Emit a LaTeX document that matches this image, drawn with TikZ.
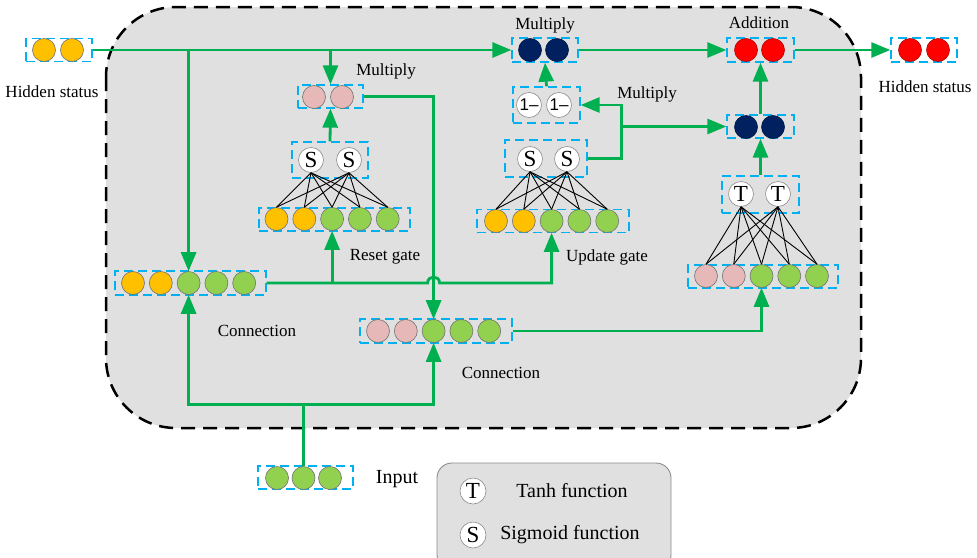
\documentclass[tikz,border=0pt]{standalone}
\usepackage{fontspec}
\setmainfont{Liberation Serif}
\newfontfamily\sansf{Liberation Sans}
\usetikzlibrary{arrows.meta,calc}
\definecolor{orng}{HTML}{FFC000}
\definecolor{grn}{HTML}{92D050}
\definecolor{pnk}{HTML}{E6B8B7}
\definecolor{nvy}{HTML}{002060}
\definecolor{rd}{HTML}{FF0000}
\definecolor{flowgreen}{HTML}{00B050}
\definecolor{boxblue}{HTML}{00B0F0}
\definecolor{bggray}{HTML}{E0E0E0}
\tikzset{
  cir/.style={circle, draw=black!55, line width=0.6pt, minimum size=23pt, inner sep=0pt},
  co/.style={cir, fill=orng},
  cg/.style={cir, fill=grn},
  cp/.style={cir, fill=pnk},
  cn/.style={cir, fill=nvy, draw=nvy!70!black},
  cr/.style={cir, fill=rd, draw=rd!70!black},
  fn/.style={circle, draw=black!45, line width=0.6pt, fill=white, minimum size=25pt, inner sep=0pt, font=\fontsize{23}{24}\selectfont},
  onec/.style={fn, font=\sansf\fontsize{17}{18}\selectfont},
  vbox/.style={draw=boxblue, dash pattern=on 9pt off 5pt, line width=1.3pt, inner sep=0pt, rectangle},
  flow/.style={draw=flowgreen, line width=2.8pt, -{Triangle[length=19pt,width=15pt]}},
  plain/.style={draw=flowgreen, line width=2.8pt},
  nn/.style={draw=black, line width=0.9pt},
  lab/.style={font=\fontsize{17}{20}\selectfont, inner sep=0pt},
  biglab/.style={font=\fontsize{20}{23}\selectfont, inner sep=0pt}
}
\begin{document}
\begin{tikzpicture}[x=1pt,y=-1pt]
\useasboundingbox (0,0) rectangle (977,557);
\fill[white] (0,0) rectangle (977,557);
% main cell
\draw[fill=bggray, draw=black, line width=2.5pt, dash pattern=on 14pt off 8pt, rounded corners=70pt] (106,7) rectangle (861,428);
% legend
\draw[fill=bggray, draw=black!45, line width=0.9pt, rounded corners=15pt] (437,463) rectangle (671,570);

% ---------- boxes ----------
\node[vbox, minimum width=66pt, minimum height=23pt] (hsLbox) at (59,50) {};
\node[vbox, minimum width=65pt, minimum height=23pt] (pinkbox) at (330.5,96.5) {};
\node[vbox, minimum width=66pt, minimum height=24pt] (mulN) at (545,50) {};
\node[vbox, minimum width=67pt, minimum height=24pt] (addbox) at (760.5,50) {};
\node[vbox, minimum width=67pt, minimum height=23pt] (n2box) at (760.5,126.5) {};
\node[vbox, minimum width=66pt, minimum height=24pt] (hsRbox) at (924,50) {};
\node[vbox, minimum width=67pt, minimum height=36pt] (onebox) at (546.5,105) {};
\node[vbox, minimum width=76pt, minimum height=36pt] (sRbox) at (330,160) {};
\node[vbox, minimum width=82pt, minimum height=37pt] (sUbox) at (546,158.5) {};
\node[vbox, minimum width=77pt, minimum height=37pt] (tbox) at (760.5,194.5) {};
\node[vbox, minimum width=151pt, minimum height=23pt] (rbox) at (334.5,219.5) {};
\node[vbox, minimum width=152pt, minimum height=23pt] (ubox) at (553,221) {};
\node[vbox, minimum width=150pt, minimum height=23pt] (tinbox) at (763,276.5) {};
\node[vbox, minimum width=151pt, minimum height=24pt] (c1box) at (190.5,283) {};
\node[vbox, minimum width=152pt, minimum height=24pt] (c2box) at (436,331) {};
\node[vbox, minimum width=95pt, minimum height=23pt] (inbox) at (305.5,477.5) {};

% ---------- circles ----------
\node[co] (hsL1) at (44,50) {}; \node[co] (hsL2) at (72,50) {};
\node[cp] (pk1) at (314,97) {}; \node[cp] (pk2) at (342,97) {};
\node[cn] (mn1) at (530,50) {}; \node[cn] (mn2) at (557,50) {};
\node[cr] (ad1) at (746,50) {}; \node[cr] (ad2) at (773,50) {};
\node[cn] (nb1) at (746,127) {}; \node[cn] (nb2) at (773,127) {};
\node[cr] (hsR1) at (910,50) {}; \node[cr] (hsR2) at (938,50) {};
\node[onec] (o1) at (529,105) {1\textendash}; \node[onec] (o2) at (559,105) {1\textendash};
\node[fn] (sR1) at (311,160) {S}; \node[fn] (sR2) at (349,160) {S};
\node[fn] (sU1) at (530,159) {S}; \node[fn] (sU2) at (567,159) {S};
\node[fn] (tt1) at (741,194) {T}; \node[fn] (tt2) at (778,194) {T};

\foreach \i/\s in {1/co,2/co,3/cg,4/cg,5/cg} {
  \node[\s] (r\i) at ({276.5+(\i-1)*27.8},219) {};
  \node[\s] (u\i) at ({496+(\i-1)*27.8},221) {};
  \node[\s] (c1\i) at ({133+(\i-1)*27.8},283) {};
}
\foreach \i/\s in {1/cp,2/cp,3/cg,4/cg,5/cg} {
  \node[\s] (t\i) at ({706+(\i-1)*27.75},276) {};
  \node[\s] (c2\i) at ({378+(\i-1)*27.8},331) {};
}
\foreach \i in {1,2,3} { \node[cg] (in\i) at ({277+(\i-1)*26.5},478) {}; }

% ---------- fully connected layers ----------
\foreach \a in {1,2} { \foreach \b in {1,...,5} {
  \draw[nn] (sR\a.south) -- (r\b.north);
  \draw[nn] (sU\a.south) -- (u\b.north);
  \draw[nn] (tt\a.south) -- (t\b.north);
}}

% ---------- flows ----------
\draw[flow] (hsLbox.east) -- (mulN.west);
\draw[flow] (c13.north |- hsLbox.east) -- (c13.north);
\draw[flow] (pinkbox.north |- hsLbox.east) -- (pinkbox.north);
\draw[flow] (sRbox.north) -- (pinkbox.south);
\draw[flow] (pinkbox.east) -| (c23.north);
\draw[flow] (c1box.east) -- ($(c23.north |- c1box.east)+(-6,0)$) .. controls +(0,-8) and +(0,-8) .. ($(c23.north |- c1box.east)+(6,0)$) -| (u3.south);
\draw[flow] (r3.south |- c1box.east) -- (r3.south);
\draw[flow] (sUbox.east) -- ++(34,0) coordinate (jm) |- (onebox.east);
\draw[flow] (jm |- n2box.west) -- (n2box.west);
\draw[flow] (onebox.north) -- (mulN.south);
\draw[flow] (mulN.east) -- (addbox.west);
\draw[flow] (addbox.east) -- (hsRbox.west);
\draw[flow] (n2box.north) -- (addbox.south);
\draw[flow] (tbox.north) -- (n2box.south);
\draw[flow] (c2box.east) -| (t3.south);
\coordinate (jin) at ($(in2.north)+(0,-62)$);
\draw[plain] (in2.north) -- (jin);
\draw[flow] (jin) -| (c13.south);
\draw[flow] (jin) -| (c23.south);

% ---------- labels ----------
\node[lab] (lhsL) at (52,92) {Hidden status};
\node[lab] (lmul1) at (386,71) {Multiply};
\node[lab] (lmul2) at (545,25) {Multiply};
\node[lab] (lmul3) at (647,94) {Multiply};
\node[lab] (ladd) at (759,23) {Addition};
\node[lab] (lhsR) at (925,87) {Hidden status};
\node[lab] (lreset) at (385,257) {Reset gate};
\node[lab] (lupd) at (607,257) {Update gate};
\node[lab] (lcon1) at (257,331) {Connection};
\node[lab] (lcon2) at (501,373) {Connection};
\node[biglab] (linput) at (397,479) {Input};

% ---------- legend ----------
\node[fn, minimum size=26pt] (legT) at (473,491) {T};
\node[fn, minimum size=26pt] (legS) at (473,535) {S};
\node[biglab] (legTt) at (572,491) {Tanh function};
\node[biglab] (legSt) at (570,535) {Sigmoid function};
\end{tikzpicture}
\end{document}
